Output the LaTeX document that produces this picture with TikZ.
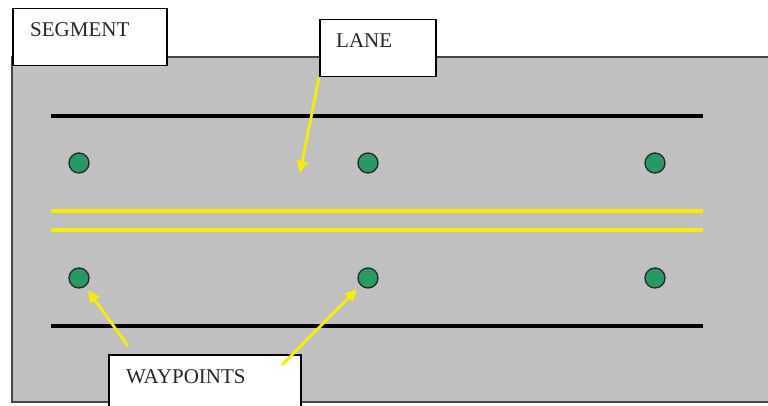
\documentclass[tikz,border=0pt]{standalone}
\usepackage{fontspec}
\setmainfont{Liberation Serif}
\usetikzlibrary{arrows.meta}
\definecolor{segGrey}{RGB}{192,192,192}
\definecolor{edgeGrey}{RGB}{70,70,70}
\definecolor{wpGreen}{RGB}{38,155,98}
\definecolor{laneYellow}{RGB}{250,238,0}
\begin{document}
\begin{tikzpicture}[x=1pt,y=-1pt,
  labelbox/.style={draw=black, line width=1.5pt, fill=white, inner sep=0pt, anchor=north west},
  labeltext/.style={anchor=base west, inner sep=0pt, font=\fontsize{21}{25}\selectfont, text=black!85},
  edgeline/.style={black, line width=4pt},
  yellowline/.style={laneYellow, line width=3.2pt},
  waypoint/.style={circle, draw=black!85, line width=1.3pt, fill=wpGreen, minimum size=20pt, inner sep=0pt},
  yarrow/.style={draw=laneYellow, line width=2.8pt, -{Triangle[length=12pt,width=11pt]}, fill=laneYellow}
]
\useasboundingbox (0,0) rectangle (768,406);
\clip (0,0) rectangle (768,406);
\fill[white] (0,0) rectangle (768,406);
% segment area
\draw[draw=edgeGrey, line width=1.5pt, fill=segGrey] (12,57) rectangle (775,402);
% label boxes
\node[labelbox, minimum width=154pt, minimum height=57pt] (segbox) at (12,8) {};
\node[labeltext] (segtext) at (30,37) {SEGMENT};
\node[labelbox, minimum width=116pt, minimum height=57pt] (lanebox) at (319,19) {};
\node[labeltext] (lanetext) at (336,48) {LANE};
% lane lines
\draw[edgeline] (51,116) coordinate (tl) -- (703,116) coordinate (tr);
\draw[edgeline] (51,326) coordinate (bl) -- (703,326) coordinate (br);
\draw[yellowline] (51,211) coordinate (yl1) -- (703,211) coordinate (yr1);
\draw[yellowline] (51,230) coordinate (yl2) -- (703,230) coordinate (yr2);
% waypoints
\node[waypoint] (w1) at (79,163) {};
\node[waypoint] (w2) at (368,163) {};
\node[waypoint] (w3) at (655,163) {};
\node[waypoint] (w4) at (79,278) {};
\node[waypoint] (w5) at (368,278) {};
\node[waypoint] (w6) at (655,278) {};
% waypoints label
\node[labelbox, minimum width=192pt, minimum height=60pt] (wpbox) at (108,354) {};
\node[labeltext] (wptext) at (126,383) {WAYPOINTS};
% arrows
\coordinate (laneTip) at (300,173);
\coordinate (wpStartA) at (128,346);
\coordinate (wpStartB) at (282,365);
\draw[yarrow] (lanebox.south west) -- (laneTip);
\draw[yarrow, shorten >=4.5pt] (wpStartA) -- (w4);
\draw[yarrow, shorten >=5pt] (wpStartB) -- (w5);
\end{tikzpicture}
\end{document}
